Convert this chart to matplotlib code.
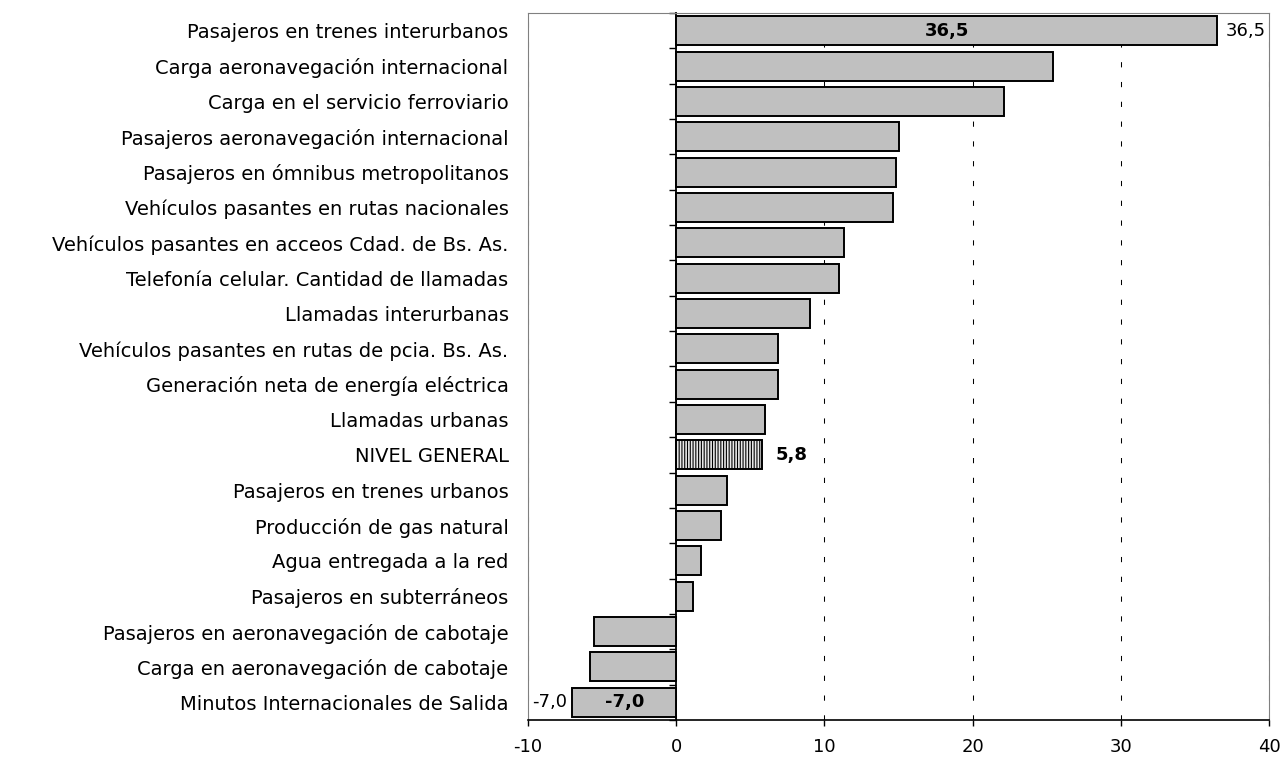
import matplotlib
matplotlib.use('Agg')
import matplotlib.pyplot as plt
import numpy as np

categories = [
    "Pasajeros en trenes interurbanos",
    "Carga aeronavegación internacional",
    "Carga en el servicio ferroviario",
    "Pasajeros aeronavegación internacional",
    "Pasajeros en ómnibus metropolitanos",
    "Vehículos pasantes en rutas nacionales",
    "Vehículos pasantes en acceos Cdad. de Bs. As.",
    "Telefonía celular. Cantidad de llamadas",
    "Llamadas interurbanas",
    "Vehículos pasantes en rutas de pcia. Bs. As.",
    "Generación neta de energía eléctrica",
    "Llamadas urbanas",
    "NIVEL GENERAL",
    "Pasajeros en trenes urbanos",
    "Producción de gas natural",
    "Agua entregada a la red",
    "Pasajeros en subterráneos",
    "Pasajeros en aeronavegación de cabotaje",
    "Carga en aeronavegación de cabotaje",
    "Minutos Internacionales de Salida",
]
values = [36.5, 25.4, 22.1, 15.0, 14.8, 14.6, 11.3, 11.0, 9.05, 6.9,
          6.9, 6.0, 5.8, 3.4, 3.05, 1.7, 1.1, -5.55, -5.85, -7.0]
highlight = "NIVEL GENERAL"
xticks = [-10, 0, 10, 20, 30, 40]


def fmt(v):
    return f"{v:.1f}".replace('.', ',')


plt.rcParams['font.family'] = ['DejaVu Sans']
plt.rcParams['hatch.linewidth'] = 0.8

W, H = 1283, 758
fig = plt.figure(figsize=(W / 100, H / 100), dpi=100)
ax = fig.add_axes([528 / W, 1 - 720 / H, (1269 - 528) / W, (720 - 13) / H])

y = np.arange(len(categories))
colors = ['#E8E8E8' if c == highlight else '#C0C0C0' for c in categories]
bars = ax.barh(y, values, height=0.82, color=colors, edgecolor='black',
               linewidth=1.4, zorder=3)
for b, c in zip(bars, categories):
    if c == highlight:
        b.set_hatch('||||||')

ax.set_xlim(xticks[0], xticks[-1])
ax.set_ylim(len(categories) - 0.5, -0.5)
ax.set_xticks(xticks)
ax.set_xticklabels([str(t) for t in xticks], fontsize=13)
ax.tick_params(axis='x', direction='out', length=4, width=1, pad=9)
ax.set_yticks(y)
ax.set_yticklabels(categories, fontsize=14)
ax.tick_params(axis='y', length=0, pad=14)

ax.set_axisbelow(True)
ax.xaxis.grid(True, linestyle=(0, (5, 14)), color='black', linewidth=0.75)

for s in ['top', 'left', 'right']:
    ax.spines[s].set_color('#808080')
    ax.spines[s].set_linewidth(0.8)
ax.spines['bottom'].set_color('black')
ax.spines['bottom'].set_linewidth(1.2)

# zero axis with category separators
loc = (0 - xticks[0]) / (xticks[-1] - xticks[0])
sec = ax.secondary_yaxis(loc)
sec.set_yticks(np.arange(len(categories) + 1) - 0.5)
sec.set_yticklabels([])
sec.tick_params(direction='out', length=5, width=1, color='black')
sec.spines['left'].set_linewidth(1.3)
sec.spines['left'].set_color('black')

# value annotations
i_max = 0
i_min = len(values) - 1
i_hl = categories.index(highlight)
ax.text(values[i_max] / 2, i_max, fmt(values[i_max]), ha='center', va='center',
        fontsize=13, fontweight='bold', zorder=5)
ax.annotate(fmt(values[i_max]), xy=(values[i_max], i_max), xytext=(6, 0),
            textcoords='offset points', ha='left', va='center', fontsize=13)
ax.text(values[i_min] / 2, i_min, fmt(values[i_min]), ha='center', va='center',
        fontsize=13, fontweight='bold', zorder=5)
ax.annotate(fmt(values[i_min]), xy=(values[i_min], i_min), xytext=(-4, 0),
            textcoords='offset points', ha='right', va='center', fontsize=13)
ax.annotate(fmt(values[i_hl]), xy=(values[i_hl], i_hl), xytext=(10, 0),
            textcoords='offset points', ha='left', va='center', fontsize=13,
            fontweight='bold')

fig.savefig('out.png', dpi=100)
